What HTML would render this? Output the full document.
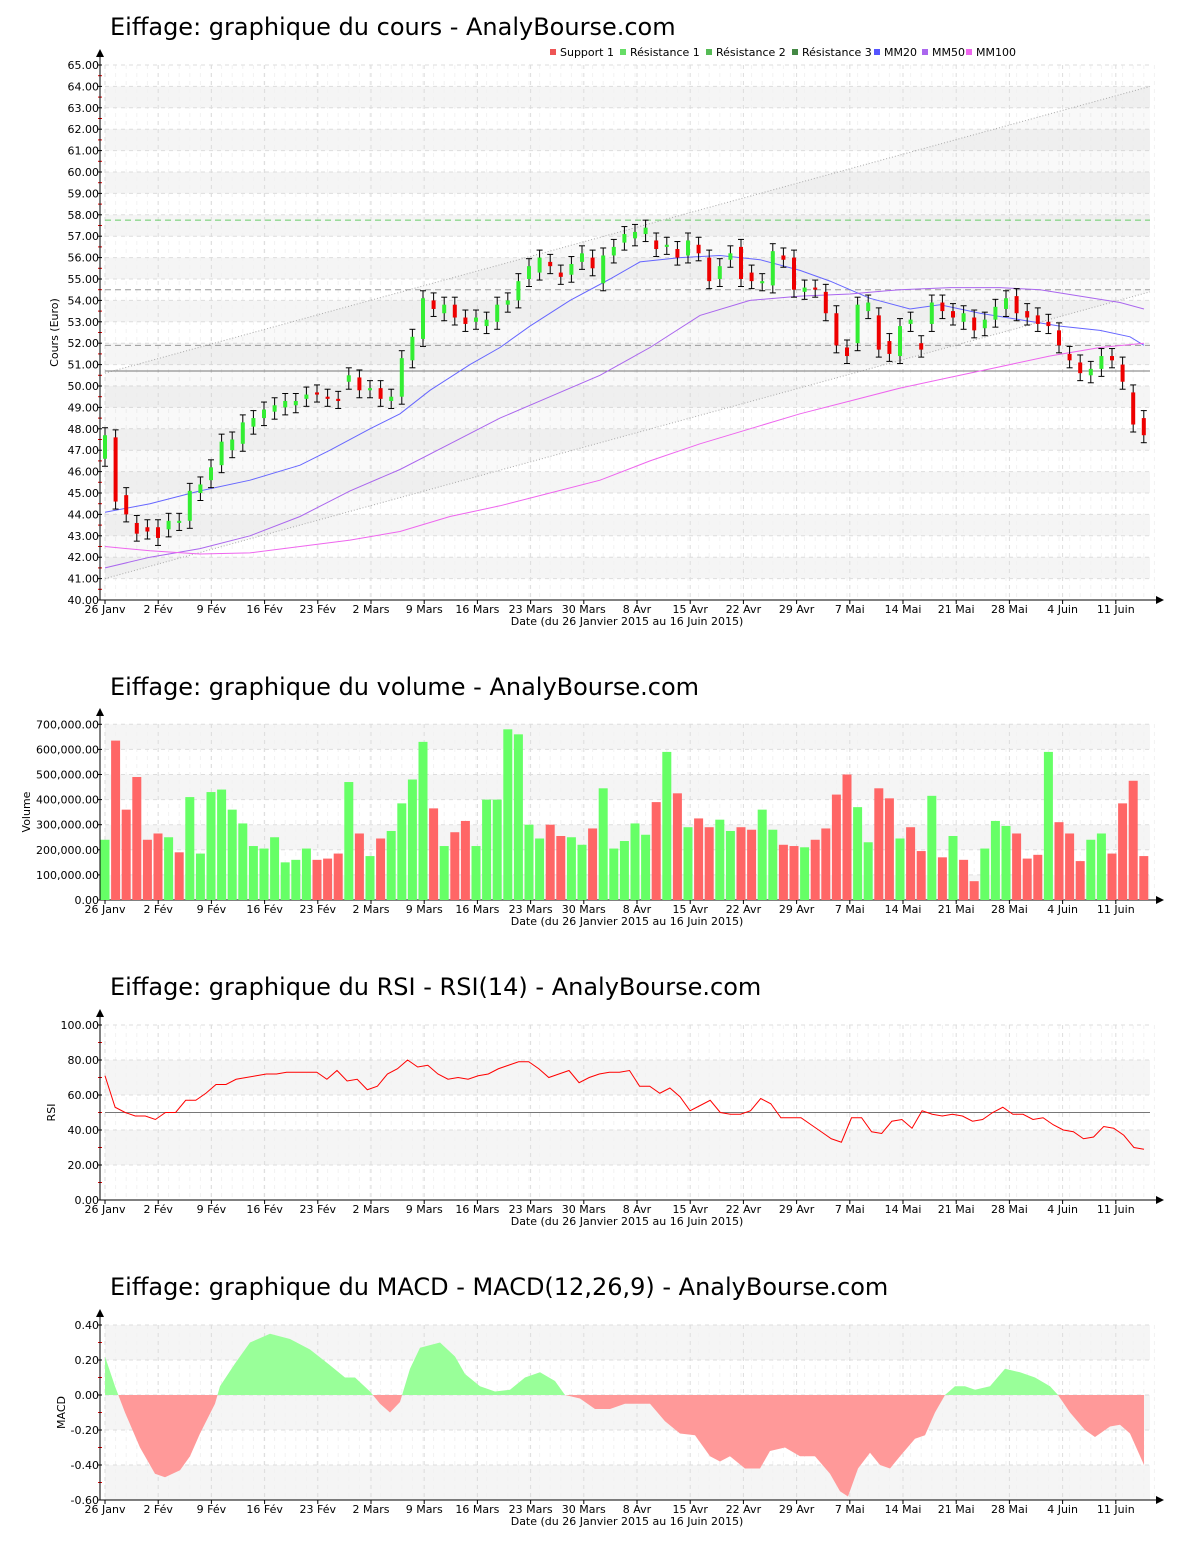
<!DOCTYPE html>
<html><head><meta charset="utf-8"><style>
body{margin:0;background:#fff;}
svg{display:block;font-family:"DejaVu Sans","Liberation Sans",sans-serif;}
</style></head><body>
<svg id="s" width="1200" height="1550" xmlns="http://www.w3.org/2000/svg"></svg>
<script>
const S=document.getElementById('s');let h='';
const X0=105,XR=1150,DX=10.6,WK=53.2;
const wk=["26 Janv","2 Fév","9 Fév","16 Fév","23 Fév","2 Mars","9 Mars","16 Mars","23 Mars","30 Mars","8 Avr","15 Avr","22 Avr","29 Avr","7 Mai","14 Mai","21 Mai","28 Mai","4 Juin","11 Juin"];
function xi(i){return X0+i*DX;}
function title(t,y){h+=`<text x="110" y="${y}" font-size="24" fill="#000">${t}</text>`;}
function frame(top,bot,ylab,ylx,ticks,fmt,bands,minorT){
 bands.forEach(b=>{h+=`<rect x="${X0}" y="${b[0]}" width="${XR-X0}" height="${b[1]-b[0]}" fill="#f5f5f5"/>`;});
 for(let i=0;i<100;i++){h+=`<line x1="${xi(i)}" y1="${top}" x2="${xi(i)}" y2="${bot}" stroke="#f2f2f2" stroke-dasharray="4,4"/>`;}
 for(let k=0;k<20;k++){const x=X0+k*WK;h+=`<line x1="${x}" y1="${top}" x2="${x}" y2="${bot}" stroke="#ddd" stroke-dasharray="4,4"/>`;}
 ticks.forEach(t=>{h+=`<line x1="${X0}" y1="${t[0]}" x2="${XR}" y2="${t[0]}" stroke="#ddd" stroke-dasharray="4,4"/><line x1="98" y1="${t[0]}" x2="102" y2="${t[0]}" stroke="#000"/><text x="99" y="${t[0]+4}" font-size="11" text-anchor="end">${t[1]}</text>`;});
 (minorT||[]).forEach(y=>{h+=`<line x1="98" y1="${y}" x2="102" y2="${y}" stroke="#d00"/>`;});
 h+=`<line x1="100" y1="${top-12}" x2="100" y2="${bot}" stroke="#000"/><polygon points="96,${top-8} 104,${top-8} 100,${top-16}" fill="#000"/>`;
 h+=`<line x1="100" y1="${bot}" x2="1158" y2="${bot}" stroke="#000"/><polygon points="1156,${bot-4} 1156,${bot+4} 1164,${bot}" fill="#000"/>`;
 for(let k=0;k<20;k++){const x=X0+k*WK;h+=`<line x1="${x}" y1="${bot}" x2="${x}" y2="${bot+4}" stroke="#000"/><text x="${x}" y="${bot+13}" font-size="11" text-anchor="middle">${wk[k]}</text>`;}
 h+=`<text x="627" y="${bot+25}" font-size="11" text-anchor="middle">Date (du 26 Janvier 2015 au 16 Juin 2015)</text>`;
 const cy=(top+bot)/2;h+=`<text x="${ylx}" y="${cy}" font-size="11" text-anchor="middle" transform="rotate(-90 ${ylx} ${cy})">${ylab}</text>`;
}
const py=v=>65+(65-v)*21.4;
title("Eiffage: graphique du cours - AnalyBourse.com",35);
{let t=[],b=[],m=[];for(let v=40;v<=65;v++)t.push([py(v),v.toFixed(2)]);for(let v=41;v<=63;v+=2)b.push([py(v+1),py(v)]);for(let v=40.5;v<65;v++)m.push(py(v));
frame(65,600,"Cours (Euro)",58,t,null,b,m);}
h+=`<polygon points="${X0},${py(50.6)} ${XR},${py(64)} ${XR},${py(54.4)} ${X0},${py(41)}" fill="#888" fill-opacity="0.05"/>`;
h+=`<line x1="${X0}" y1="${py(50.6)}" x2="${XR}" y2="${py(64)}" stroke="#aaa" stroke-dasharray="1,2"/>`;
h+=`<line x1="${X0}" y1="${py(41)}" x2="${XR}" y2="${py(54.4)}" stroke="#aaa" stroke-dasharray="1,2"/>`;
h+=`<line x1="${X0}" y1="${py(57.75)}" x2="${XR}" y2="${py(57.75)}" stroke="#6c6" stroke-dasharray="6,4"/>`;
h+=`<line x1="${X0}" y1="${py(54.5)}" x2="${XR}" y2="${py(54.5)}" stroke="#999" stroke-dasharray="6,4"/>`;
h+=`<line x1="${X0}" y1="${py(51.9)}" x2="${XR}" y2="${py(51.9)}" stroke="#999" stroke-dasharray="6,4"/>`;
h+=`<line x1="${X0}" y1="${py(50.7)}" x2="${XR}" y2="${py(50.7)}" stroke="#777"/>`;
function pl(pts,col){h+=`<polyline fill="none" stroke="${col}" stroke-width="1" points="${pts.map(p=>p[0]+','+py(p[1]).toFixed(1)).join(' ')}"/>`;}
pl([[105,44.1],[150,44.5],[200,45.1],[250,45.6],[300,46.3],[330,47.0],[370,48.0],[400,48.7],[430,49.8],[470,51.0],[500,51.8],[530,52.8],[570,54.0],[610,55.0],[640,55.8],[680,56.0],[720,56.1],[760,55.9],[800,55.4],[830,54.9],[870,54.1],[910,53.6],[940,53.8],[980,53.4],[1020,53.1],[1060,52.8],[1100,52.6],[1130,52.3],[1144,51.9]],"#66f");
pl([[105,41.5],[150,42.0],[200,42.4],[250,43.0],[300,43.9],[350,45.1],[400,46.1],[450,47.3],[500,48.5],[550,49.5],[600,50.5],[650,51.8],[700,53.3],[750,54.0],[800,54.2],[850,54.3],[900,54.5],[950,54.6],[1000,54.6],[1040,54.5],[1080,54.2],[1120,53.9],[1144,53.6]],"#a6e");
pl([[105,42.5],[150,42.3],[200,42.15],[250,42.2],[300,42.5],[350,42.8],[400,43.2],[450,43.9],[500,44.4],[550,45.0],[600,45.6],[650,46.5],[700,47.3],[750,48.0],[800,48.7],[850,49.3],[900,49.9],[950,50.4],[1000,50.9],[1050,51.4],[1100,51.8],[1144,52.0]],"#e6e");
const C=[[46.6,47.7],[47.6,44.6],[44.9,44],[43.6,43.1],[43.4,43.2],[43.4,42.9],[43.3,43.7],[43.6,43.7],[43.7,45.1],[45,45.4],[45.6,46.2],[46.3,47.4],[47,47.5],[47.3,48.3],[48.1,48.5],[48.5,48.9],[48.8,49.1],[49,49.3],[49.1,49.3],[49.4,49.6],[49.7,49.6],[49.5,49.4],[49.4,49.3],[50.2,50.5],[50.4,49.8],[49.8,49.9],[49.9,49.4],[49.3,49.5],[49.5,51.3],[51.2,52.3],[52.2,54.1],[54,53.6],[53.4,53.8],[53.8,53.2],[53.2,52.9],[53,53.2],[52.8,53.1],[53,53.8],[53.8,54],[54,54.9],[55,55.6],[55.3,56],[55.8,55.6],[55.3,55.1],[55.2,55.7],[55.8,56.2],[56,55.5],[54.8,56.1],[56.1,56.5],[56.7,57.1],[56.9,57.2],[57.1,57.4],[56.8,56.4],[56.5,56.6],[56.4,56],[56.1,56.8],[56.6,56.2],[56,54.9],[55,55.6],[55.9,56.2],[56.5,55],[55.3,54.9],[54.8,54.9],[54.7,56.3],[56.1,55.9],[56,54.5],[54.4,54.6],[54.6,54.5],[54.4,53.4],[53.4,51.9],[51.8,51.4],[52,53.8],[53.5,53.9],[53.3,51.7],[52.1,51.5],[51.4,52.8],[52.9,53.1],[52,51.7],[52.9,53.9],[53.9,53.5],[53.5,53.2],[53,53.4],[53.2,52.6],[52.7,53.1],[53.1,53.7],[53.6,54.1],[54.2,53.4],[53.5,53.2],[53.3,52.9],[53,52.8],[52.6,51.9],[51.5,51.2],[51.1,50.6],[50.5,50.8],[50.8,51.4],[51.4,51.2],[51,50.2],[49.7,48.2],[48.5,47.7]];
C.forEach((c,i)=>{const x=xi(i),hi=Math.max(c[0],c[1])+0.35,lo=Math.min(c[0],c[1])-0.35;
 h+=`<line x1="${x}" y1="${py(hi)}" x2="${x}" y2="${py(lo)}" stroke="#000"/><line x1="${x-3}" y1="${py(hi)}" x2="${x+3}" y2="${py(hi)}" stroke="#000"/><line x1="${x-3}" y1="${py(lo)}" x2="${x+3}" y2="${py(lo)}" stroke="#000"/>`;
 const a=py(Math.max(c[0],c[1])),b=py(Math.min(c[0],c[1]));h+=`<rect x="${x-2}" y="${a}" width="4" height="${Math.max(2,b-a)}" fill="${c[1]>=c[0]?'#3e3':'#e00'}"/>`;});
[["Support 1","#e55",550],["Résistance 1","#6d6",620],["Résistance 2","#5b5",706],["Résistance 3","#484",792],["MM20","#55f",874],["MM50","#a6e",922],["MM100","#e6e",966]].forEach(l=>{h+=`<rect x="${l[2]}" y="49" width="6" height="6" fill="${l[1]}"/><text x="${l[2]+10}" y="56" font-size="11">${l[0]}</text>`;});
title("Eiffage: graphique du volume - AnalyBourse.com",695);
const vy=v=>900-v*25.1;
{let t=[];for(let v=0;v<=7;v++)t.push([vy(v),(v*100000).toLocaleString('en-US')+".00"]);
frame(724,900,"Volume",30,t,null,[[vy(7),vy(6)],[vy(5),vy(4)],[vy(3),vy(2)],[vy(1),vy(0)]],[]);}
const V="g2.4 r6.35 r3.6 r4.9 r2.4 r2.65 g2.5 r1.9 g4.1 g1.85 g4.3 g4.4 g3.6 g3.05 g2.15 g2.05 g2.5 g1.5 g1.6 g2.05 r1.6 r1.65 r1.85 g4.7 r2.65 g1.75 r2.45 g2.75 g3.85 g4.8 g6.3 r3.65 g2.15 r2.7 r3.15 g2.15 g4.0 g4.0 g6.8 g6.6 g3.0 g2.45 r3.0 r2.55 g2.5 g2.2 r2.85 g4.45 g2.05 g2.35 g3.05 g2.6 r3.9 g5.9 r4.25 g2.9 r3.25 r2.9 g3.2 g2.75 r2.9 r2.8 g3.6 g2.8 r2.2 r2.15 g2.1 r2.4 r2.85 r4.2 r5.0 g3.7 g2.3 r4.45 r4.05 g2.45 r2.9 r1.95 g4.15 r1.7 g2.55 r1.6 r0.75 g2.05 g3.15 g2.95 r2.65 r1.65 r1.8 g5.9 r3.1 r2.65 r1.55 g2.4 g2.65 r1.85 r3.85 r4.75 r1.75".split(' ');
V.forEach((s,i)=>{const v=parseFloat(s.slice(1)),x=xi(i);h+=`<rect x="${x-4.5}" y="${vy(v)}" width="9" height="${900-vy(v)}" fill="${s[0]=='g'?'#6f6':'#f66'}"/>`;});
title("Eiffage: graphique du RSI - RSI(14) - AnalyBourse.com",995);
const ry=v=>1200-v*1.75;
{let t=[];for(let v=0;v<=100;v+=20)t.push([ry(v),v.toFixed(2)]);let m=[];for(let v=10;v<100;v+=20)m.push(ry(v));
frame(1025,1200,"RSI",55,t,null,[[ry(80),ry(60)],[ry(40),ry(20)]],m);}
h+=`<line x1="${X0}" y1="${ry(50)}" x2="${XR}" y2="${ry(50)}" stroke="#777"/>`;
const R=[71,53,50,48,48,46,50,50,57,57,61,66,66,69,70,71,72,72,73,73,73,73,69,74,68,69,63,65,72,75,80,76,77,72,69,70,69,71,72,75,77,79,79,75,70,72,74,67,70,72,73,73,74,65,65,61,64,59,51,54,57,50,49,49,51,58,55,47,47,47,43,39,35,33,47,47,39,38,45,46,41,51,49,48,49,48,45,46,50,53,49,49,46,47,43,40,39,35,36,42,41,37,30,29];
h+=`<polyline fill="none" stroke="#f00" points="${R.map((v,i)=>(X0+i*(1144-X0)/(R.length-1)).toFixed(1)+','+ry(v)).join(' ')}"/>`;
title("Eiffage: graphique du MACD - MACD(12,26,9) - AnalyBourse.com",1295);
const my=v=>1395-v*175;
{let t=[];for(let v=-0.6;v<=0.41;v+=0.2)t.push([my(v),v.toFixed(2)]);let m=[];for(let v=-0.5;v<0.4;v+=0.2)m.push(my(v));
frame(1325,1500,"MACD",65,t,null,[[my(0.4),my(0.2)],[my(0),my(-0.2)],[my(-0.4),my(-0.6)]],m);}
const M=[[105,0.22],[115,0.05],[125,-0.1],[140,-0.3],[155,-0.45],[165,-0.47],[180,-0.43],[190,-0.35],[200,-0.22],[215,-0.05],[220,0.05],[235,0.18],[250,0.3],[270,0.35],[290,0.32],[310,0.26],[330,0.17],[345,0.1],[355,0.1],[370,0.02],[380,-0.05],[390,-0.1],[400,-0.04],[410,0.15],[420,0.27],[440,0.3],[455,0.22],[465,0.12],[480,0.05],[495,0.02],[510,0.03],[525,0.1],[540,0.13],[555,0.08],[565,0.0],[580,-0.02],[595,-0.08],[610,-0.08],[625,-0.05],[640,-0.05],[650,-0.05],[665,-0.15],[680,-0.22],[695,-0.23],[710,-0.35],[720,-0.38],[730,-0.35],[745,-0.42],[760,-0.42],[770,-0.32],[785,-0.3],[800,-0.35],[815,-0.35],[830,-0.45],[840,-0.55],[848,-0.58],[858,-0.42],[870,-0.33],[880,-0.4],[890,-0.42],[900,-0.35],[915,-0.25],[925,-0.23],[935,-0.1],[945,0.0],[955,0.05],[965,0.05],[975,0.03],[990,0.05],[1005,0.15],[1020,0.13],[1035,0.1],[1050,0.05],[1058,0.0],[1070,-0.1],[1085,-0.2],[1095,-0.24],[1110,-0.18],[1120,-0.17],[1130,-0.22],[1144,-0.4]];
const poly=`${X0},${my(0)} `+M.map(p=>p[0]+','+my(p[1]).toFixed(1)).join(' ')+` 1144,${my(0)}`;
h+=`<defs><clipPath id="up"><rect x="0" y="1300" width="1200" height="95"/></clipPath><clipPath id="dn"><rect x="0" y="1395" width="1200" height="110"/></clipPath></defs>`;
h+=`<polygon points="${poly}" fill="#9f9" clip-path="url(#up)"/><polygon points="${poly}" fill="#f99" clip-path="url(#dn)"/>`;
S.innerHTML=h;
</script>
</body></html>
